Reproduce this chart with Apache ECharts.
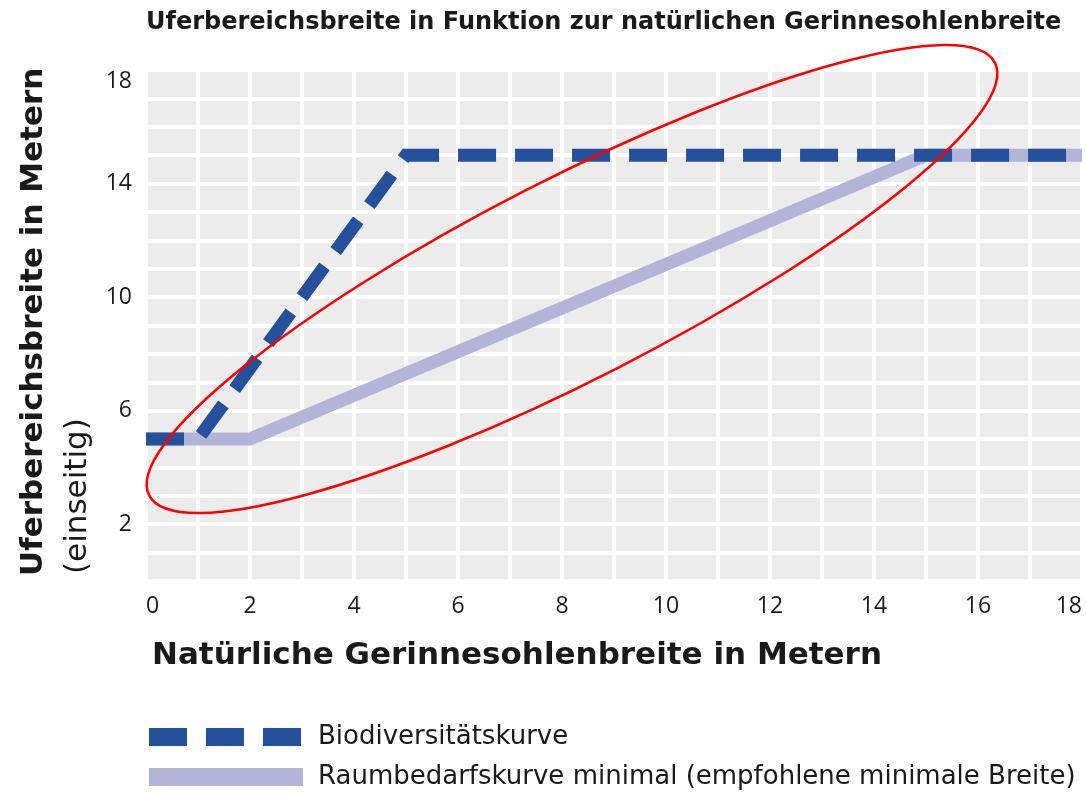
<!DOCTYPE html>
<html>
<head>
<meta charset="utf-8">
<script src="https://cdn.jsdelivr.net/npm/echarts@6/dist/echarts.min.js"></script>
<style>
html, body { margin: 0; padding: 0; background: #fff; }
#chart { width: 1086px; height: 795px; }
</style>
</head>
<body>
<div id="chart"></div>
<script>
// Daten: natürliche Gerinnesohlenbreite (x) -> Uferbereichsbreite (y), in Metern
var sohle_bio = [0, 1, 5, 18];
var ufer_bio = [5, 5, 15, 15];
var sohle_raum = [0, 2, 15, 18];
var ufer_raum = [5, 5, 15, 15];
var x_ticks = [0, 2, 4, 6, 8, 10, 12, 14, 16, 18];
var y_ticks = [2, 6, 10, 14, 18];

var chart = echarts.init(document.getElementById('chart'));

function pairs(xs, ys) {
    return xs.map(function (x, i) { return [x, ys[i]]; });
}

var textColor = '#1a1a1a';

option = {
    animation: false,
    title: {
        text: 'Uferbereichsbreite in Funktion zur natürlichen Gerinnesohlenbreite',
        left: 146,
        top: 11,
        padding: 0,
        textStyle: {
            fontFamily: 'DejaVu Sans',
            fontWeight: 'bold',
            fontSize: 24,
            color: textColor
        }
    },
    grid: {
        left: 146,
        right: 4,
        top: 70,
        bottom: 214,
        show: true,
        backgroundColor: '#ececec',
        borderWidth: 0
    },
    legend: {
        orient: 'vertical',
        left: 140,
        top: 724,
        padding: 0,
        itemWidth: 154,
        itemHeight: 18,
        itemGap: 14,
        data: ['Biodiversitätskurve', 'Raumbedarfskurve minimal (empfohlene minimale Breite)'],
        lineStyle: { width: 18 },
        textStyle: {
            fontFamily: 'DejaVu Sans',
            fontSize: 26,
            color: textColor,
            padding: [0, 0, 0, 10]
        }
    },
    xAxis: {
        type: 'value',
        min: 0,
        max: 18,
        interval: 1,
        name: 'Natürliche Gerinnesohlenbreite in Metern',
        nameLocation: 'start',
        nameGap: -6,
        nameTextStyle: {
            fontFamily: 'DejaVu Sans',
            fontWeight: 'bold',
            fontSize: 31,
            color: textColor,
            align: 'left',
            verticalAlign: 'top',
            padding: [59, 0, 0, 0]
        },
        axisLine: { show: false },
        axisTick: { show: false },
        splitLine: { lineStyle: { color: '#fff', width: 4 } },
        axisLabel: {
            margin: 14,
            fontFamily: 'Open Sans',
            fontSize: 23,
            color: textColor,
            alignMinLabel: 'left',
            alignMaxLabel: 'right',
            formatter: function (v) { return x_ticks.indexOf(v) >= 0 ? String(v) : ''; }
        }
    },
    yAxis: {
        type: 'value',
        min: 0,
        max: 18,
        interval: 1,
        axisLine: { show: false },
        axisTick: { show: false },
        splitLine: { lineStyle: { color: '#fff', width: 4 } },
        axisLabel: {
            margin: 14,
            fontFamily: 'Open Sans',
            fontSize: 23,
            color: textColor,
            verticalAlignMaxLabel: 'top',
            formatter: function (v) { return y_ticks.indexOf(v) >= 0 ? String(v) : ''; }
        }
    },
    graphic: [
        {
            type: 'text',
            x: 34,
            y: 576,
            rotation: Math.PI / 2,
            style: {
                text: 'Uferbereichsbreite in Metern',
                font: 'bold 31px "DejaVu Sans"',
                fill: textColor,
                textAlign: 'left',
                textVerticalAlign: 'middle'
            }
        },
        {
            type: 'text',
            x: 78,
            y: 574,
            rotation: Math.PI / 2,
            style: {
                text: '(einseitig)',
                font: '31px "DejaVu Sans"',
                fill: textColor,
                textAlign: 'left',
                textVerticalAlign: 'middle'
            }
        },
        {
            type: 'ellipse',
            x: 572,
            y: 279,
            rotation: 0.473,
            z: 100,
            shape: { cx: 0, cy: 0, rx: 475, ry: 100 },
            style: { fill: null, stroke: '#ff0000', lineWidth: 2.5 }
        }
    ],
    series: [
        {
            name: 'Raumbedarfskurve minimal (empfohlene minimale Breite)',
            type: 'line',
            symbol: 'none',
            data: pairs(sohle_raum, ufer_raum),
            lineStyle: { color: '#b3b5d8', width: 13, cap: 'butt', join: 'miter' },
            itemStyle: { color: '#b3b5d8' }
        },
        {
            name: 'Biodiversitätskurve',
            type: 'line',
            symbol: 'none',
            data: pairs(sohle_bio, ufer_bio),
            lineStyle: { color: '#25509c', width: 13, type: [38, 19], cap: 'butt', join: 'miter' },
            itemStyle: { color: '#25509c' }
        }
    ]
};
chart.setOption(option);
</script>
</body>
</html>
